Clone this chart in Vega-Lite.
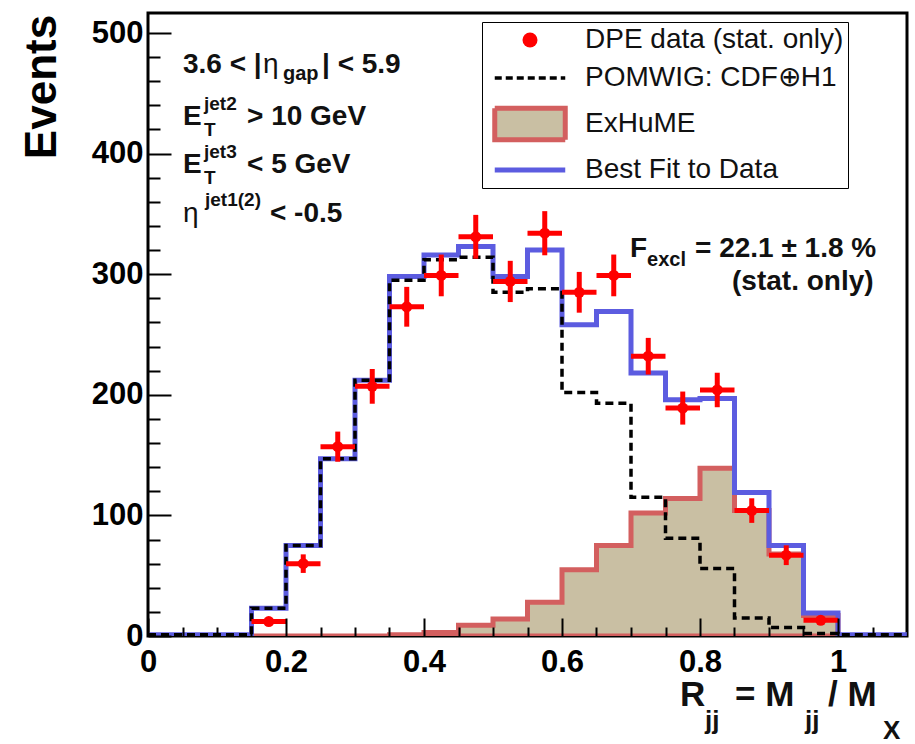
{
  "$schema": "https://vega.github.io/schema/vega-lite/v6.json",
  "width": 759,
  "height": 623,
  "autosize": "none",
  "padding": {"left": 148, "top": 13, "right": 8, "bottom": 108},
  "background": "white",
  "config": {"view": {"stroke": "black", "strokeWidth": 3}, "font": "Liberation Sans"},
  "resolve": {"axis": {"x": "independent", "y": "independent"}},
  "datasets": {
    "hist": [
      {"x": 0.00, "pomwig": 1, "exhume": 0, "fit": 1},
      {"x": 0.05, "pomwig": 1, "exhume": 0, "fit": 1},
      {"x": 0.10, "pomwig": 1, "exhume": 0, "fit": 1},
      {"x": 0.15, "pomwig": 23, "exhume": 0, "fit": 23},
      {"x": 0.20, "pomwig": 75, "exhume": 0, "fit": 75},
      {"x": 0.25, "pomwig": 147, "exhume": 0, "fit": 147},
      {"x": 0.30, "pomwig": 212, "exhume": 0, "fit": 212},
      {"x": 0.35, "pomwig": 295, "exhume": 1, "fit": 298},
      {"x": 0.40, "pomwig": 312, "exhume": 3, "fit": 316},
      {"x": 0.45, "pomwig": 314, "exhume": 9, "fit": 323},
      {"x": 0.50, "pomwig": 285, "exhume": 14, "fit": 298},
      {"x": 0.55, "pomwig": 288, "exhume": 28, "fit": 320},
      {"x": 0.60, "pomwig": 202, "exhume": 55, "fit": 258},
      {"x": 0.65, "pomwig": 193, "exhume": 75, "fit": 269},
      {"x": 0.70, "pomwig": 115, "exhume": 102, "fit": 218},
      {"x": 0.75, "pomwig": 81, "exhume": 114, "fit": 196},
      {"x": 0.80, "pomwig": 56, "exhume": 139, "fit": 197},
      {"x": 0.85, "pomwig": 15, "exhume": 104, "fit": 119},
      {"x": 0.90, "pomwig": 7, "exhume": 68, "fit": 75},
      {"x": 0.95, "pomwig": 2, "exhume": 17, "fit": 19},
      {"x": 1.00, "pomwig": 1, "exhume": 0, "fit": 1},
      {"x": 1.05, "pomwig": 1, "exhume": 0, "fit": 1},
      {"x": 1.10, "pomwig": 1, "exhume": 0, "fit": 1}
    ],
    "dpe": [
      {"xc": 0.175, "xlo": 0.15, "xhi": 0.20, "n": 12, "ylo": 8.5, "yhi": 15.5},
      {"xc": 0.225, "xlo": 0.20, "xhi": 0.25, "n": 60, "ylo": 52.3, "yhi": 67.7},
      {"xc": 0.275, "xlo": 0.25, "xhi": 0.30, "n": 157, "ylo": 144.5, "yhi": 169.5},
      {"xc": 0.325, "xlo": 0.30, "xhi": 0.35, "n": 207, "ylo": 192.6, "yhi": 221.4},
      {"xc": 0.375, "xlo": 0.35, "xhi": 0.40, "n": 273, "ylo": 256.5, "yhi": 289.5},
      {"xc": 0.425, "xlo": 0.40, "xhi": 0.45, "n": 299, "ylo": 281.7, "yhi": 316.3},
      {"xc": 0.475, "xlo": 0.45, "xhi": 0.50, "n": 331, "ylo": 312.8, "yhi": 349.2},
      {"xc": 0.525, "xlo": 0.50, "xhi": 0.55, "n": 294, "ylo": 276.9, "yhi": 311.1},
      {"xc": 0.575, "xlo": 0.55, "xhi": 0.60, "n": 334, "ylo": 315.7, "yhi": 352.3},
      {"xc": 0.625, "xlo": 0.60, "xhi": 0.65, "n": 285, "ylo": 268.1, "yhi": 301.9},
      {"xc": 0.675, "xlo": 0.65, "xhi": 0.70, "n": 299, "ylo": 281.7, "yhi": 316.3},
      {"xc": 0.725, "xlo": 0.70, "xhi": 0.75, "n": 232, "ylo": 216.8, "yhi": 247.2},
      {"xc": 0.775, "xlo": 0.75, "xhi": 0.80, "n": 189, "ylo": 175.3, "yhi": 202.7},
      {"xc": 0.825, "xlo": 0.80, "xhi": 0.85, "n": 204, "ylo": 189.7, "yhi": 218.3},
      {"xc": 0.875, "xlo": 0.85, "xhi": 0.90, "n": 104, "ylo": 93.8, "yhi": 114.2},
      {"xc": 0.925, "xlo": 0.90, "xhi": 0.95, "n": 67, "ylo": 58.8, "yhi": 75.2},
      {"xc": 0.975, "xlo": 0.95, "xhi": 1.00, "n": 13, "ylo": 9.4, "yhi": 16.6}
    ],
    "ann": [
      {"t": "3.6 < |", "x": 0.0507, "y": 466.8, "k": "main"},
      {"t": "η", "x": 0.1667, "y": 466.8, "k": "greek"},
      {"t": "gap", "x": 0.1957, "y": 461, "k": "sub"},
      {"t": "| < 5.9", "x": 0.2522, "y": 466.8, "k": "main"},
      {"t": "E", "x": 0.0507, "y": 423.7, "k": "main"},
      {"t": "jet2", "x": 0.0812, "y": 436.2, "k": "sup"},
      {"t": "T", "x": 0.0812, "y": 414.6, "k": "sup"},
      {"t": "> 10 GeV", "x": 0.1435, "y": 423.7, "k": "main"},
      {"t": "E", "x": 0.0507, "y": 383.9, "k": "main"},
      {"t": "jet3", "x": 0.0812, "y": 396.4, "k": "sup"},
      {"t": "T", "x": 0.0812, "y": 374.8, "k": "sup"},
      {"t": "< 5 GeV", "x": 0.1435, "y": 383.9, "k": "main"},
      {"t": "η", "x": 0.0507, "y": 343.3, "k": "greek"},
      {"t": "jet1(2)", "x": 0.0826, "y": 356.6, "k": "sup"},
      {"t": "< -0.5", "x": 0.1768, "y": 343.3, "k": "main"},
      {"t": "F", "x": 0.6986, "y": 314.3, "k": "main"},
      {"t": "excl", "x": 0.7232, "y": 306.8, "k": "sub"},
      {"t": "= 22.1 ± 1.8 %", "x": 0.7928, "y": 314.3, "k": "main"},
      {"t": "(stat. only)", "x": 0.8464, "y": 286.9, "k": "main"},
      {"t": "R", "x": 0.771, "y": -58, "k": "xt"},
      {"t": "jj", "x": 0.8072, "y": -77.5, "k": "xts"},
      {"t": "= M", "x": 0.8507, "y": -58, "k": "xt"},
      {"t": "jj", "x": 0.9522, "y": -77.5, "k": "xts"},
      {"t": "/ M", "x": 0.9855, "y": -58, "k": "xt"},
      {"t": "X", "x": 1.0652, "y": -85.5, "k": "xts"}
    ]
  },
  "layer": [
    {
      "data": {"name": "hist"},
      "mark": {"type": "area", "interpolate": "step-after", "fill": "#c9bfa3", "stroke": "#d35f5f", "strokeWidth": 5, "clip": true},
      "encoding": {
        "x": {
          "field": "x", "type": "quantitative",
          "scale": {"domain": [0, 1.1], "nice": false, "zero": false},
          "axis": {
            "orient": "bottom",
            "values": [0, 0.2, 0.4, 0.6, 0.8, 1],
            "labelExpr": "format(datum.value, '~g')",
            "tickSize": -18,
            "tickColor": "black", "tickWidth": 2,
            "domain": false, "grid": false, "zindex": 1,
            "labelFont": "Liberation Sans", "labelFontWeight": "bold", "labelFontSize": 31, "labelColor": "black",
            "labelPadding": 29, "labelFlush": false, "labelOverlap": false,
            "title": null
          }
        },
        "y": {
          "field": "exhume", "type": "quantitative",
          "scale": {"domain": [0, 516.6], "nice": false, "zero": false},
          "axis": {
            "orient": "left",
            "values": [0, 100, 200, 300, 400, 500],
            "tickSize": -23,
            "tickColor": "black", "tickWidth": 2,
            "domain": false, "grid": false, "zindex": 1,
            "labelFont": "Liberation Sans", "labelFontWeight": "bold", "labelFontSize": 31, "labelColor": "black",
            "labelPadding": 28, "labelOverlap": false,
            "title": "Events",
            "titleFont": "Liberation Sans", "titleFontWeight": "bold", "titleFontSize": 44, "titleColor": "black",
            "titleAngle": -90, "titleX": -93, "titleY": 73.5, "titleAlign": "center", "titleBaseline": "alphabetic"
          }
        }
      }
    },
    {
      "data": {"name": "hist"},
      "mark": {"type": "line", "interpolate": "step-after", "stroke": "#5c5ce0", "strokeWidth": 5, "clip": true},
      "encoding": {
        "x": {
          "field": "x", "type": "quantitative",
          "axis": {
            "orient": "bottom",
            "values": [0.05, 0.1, 0.15, 0.25, 0.3, 0.35, 0.45, 0.5, 0.55, 0.65, 0.7, 0.75, 0.85, 0.9, 0.95, 1.05],
            "labels": false, "tickSize": -9, "tickColor": "black", "tickWidth": 2,
            "domain": false, "grid": false, "zindex": 1, "title": null
          }
        },
        "y": {
          "field": "fit", "type": "quantitative",
          "axis": {
            "orient": "left",
            "values": [20, 40, 60, 80, 120, 140, 160, 180, 220, 240, 260, 280, 320, 340, 360, 380, 420, 440, 460, 480],
            "labels": false, "tickSize": -12, "tickColor": "black", "tickWidth": 2,
            "domain": false, "grid": false, "zindex": 1, "title": null
          }
        }
      }
    },
    {
      "data": {"name": "hist"},
      "mark": {"type": "line", "interpolate": "step-after", "stroke": "black", "strokeWidth": 3.5, "strokeDash": [8, 5], "clip": true},
      "encoding": {
        "x": {"field": "x", "type": "quantitative", "axis": null},
        "y": {"field": "pomwig", "type": "quantitative", "axis": null}
      }
    },
    {
      "data": {"name": "dpe"},
      "mark": {"type": "rule", "stroke": "#ff0000", "strokeWidth": 5},
      "encoding": {
        "x": {"field": "xc", "type": "quantitative", "axis": null},
        "y": {"field": "ylo", "type": "quantitative", "axis": null},
        "y2": {"field": "yhi"}
      }
    },
    {
      "data": {"name": "dpe"},
      "mark": {"type": "rule", "stroke": "#ff0000", "strokeWidth": 5},
      "encoding": {
        "x": {"field": "xlo", "type": "quantitative", "axis": null},
        "x2": {"field": "xhi"},
        "y": {"field": "n", "type": "quantitative", "axis": null}
      }
    },
    {
      "data": {"name": "dpe"},
      "mark": {"type": "circle", "size": 120, "opacity": 1},
      "encoding": {
        "x": {"field": "xc", "type": "quantitative", "axis": null},
        "y": {"field": "n", "type": "quantitative", "axis": null},
        "color": {
          "datum": "DPE data (stat. only)\u00a0\u00a0\u00a0\u00a0\u00a0",
          "type": "nominal",
          "scale": {
            "domain": ["DPE data (stat. only)\u00a0\u00a0\u00a0\u00a0\u00a0", "POMWIG: CDF⊕H1", "ExHuME", "Best Fit to Data"],
            "range": ["#ff0000", "white", "#c9bfa3", "white"]
          },
          "legend": {
            "orient": "none", "legendX": 334, "legendY": 9,
            "title": null,
            "fillColor": "white", "strokeColor": "black",
            "padding": 4,
            "labelFont": "Liberation Sans", "labelFontSize": 28, "labelColor": "#111", "labelLimit": 600,
            "symbolSize": 225, "symbolOffset": 30, "labelOffset": 41, "rowPadding": 6,
            "symbolType": {"expr": "datum.value === 'ExHuME' ? 'M-4.7,-2.1H4.7V2.1H-4.7Z' : (datum.value === 'POMWIG: CDF⊕H1' || datum.value === 'Best Fit to Data') ? 'M-4.7,0H4.7' : 'circle'"},
            "symbolStrokeColor": {"expr": "datum.value === 'ExHuME' ? '#d35f5f' : datum.value === 'Best Fit to Data' ? '#5c5ce0' : datum.value === 'POMWIG: CDF⊕H1' ? 'black' : 'transparent'"},
            "symbolDash": {"expr": "datum.value === 'POMWIG: CDF⊕H1' ? [7, 4] : [1, 0]"},
            "symbolStrokeWidth": {"expr": "datum.value === 'POMWIG: CDF⊕H1' ? 3.5 : 5"}
          }
        }
      }
    },
    {
      "data": {"name": "ann"},
      "transform": [{"filter": "datum.k === 'main'"}],
      "mark": {"type": "text", "align": "left", "baseline": "alphabetic", "font": "Liberation Sans", "fontWeight": "bold", "fontSize": 28, "color": "#111"},
      "encoding": {"x": {"field": "x", "type": "quantitative", "axis": null}, "y": {"field": "y", "type": "quantitative", "axis": null}, "text": {"field": "t"}}
    },
    {
      "data": {"name": "ann"},
      "transform": [{"filter": "datum.k === 'greek'"}],
      "mark": {"type": "text", "align": "left", "baseline": "alphabetic", "font": "Liberation Sans", "fontWeight": "normal", "fontSize": 28, "color": "#111"},
      "encoding": {"x": {"field": "x", "type": "quantitative", "axis": null}, "y": {"field": "y", "type": "quantitative", "axis": null}, "text": {"field": "t"}}
    },
    {
      "data": {"name": "ann"},
      "transform": [{"filter": "datum.k === 'sup'"}],
      "mark": {"type": "text", "align": "left", "baseline": "alphabetic", "font": "Liberation Sans", "fontWeight": "bold", "fontSize": 19, "color": "#111"},
      "encoding": {"x": {"field": "x", "type": "quantitative", "axis": null}, "y": {"field": "y", "type": "quantitative", "axis": null}, "text": {"field": "t"}}
    },
    {
      "data": {"name": "ann"},
      "transform": [{"filter": "datum.k === 'sub'"}],
      "mark": {"type": "text", "align": "left", "baseline": "alphabetic", "font": "Liberation Sans", "fontWeight": "bold", "fontSize": 20, "color": "#111"},
      "encoding": {"x": {"field": "x", "type": "quantitative", "axis": null}, "y": {"field": "y", "type": "quantitative", "axis": null}, "text": {"field": "t"}}
    },
    {
      "data": {"name": "ann"},
      "transform": [{"filter": "datum.k === 'xt'"}],
      "mark": {"type": "text", "align": "left", "baseline": "alphabetic", "font": "Liberation Sans", "fontWeight": "bold", "fontSize": 35, "color": "#111"},
      "encoding": {"x": {"field": "x", "type": "quantitative", "axis": null}, "y": {"field": "y", "type": "quantitative", "axis": null}, "text": {"field": "t"}}
    },
    {
      "data": {"name": "ann"},
      "transform": [{"filter": "datum.k === 'xts'"}],
      "mark": {"type": "text", "align": "left", "baseline": "alphabetic", "font": "Liberation Sans", "fontWeight": "bold", "fontSize": 26, "color": "#111"},
      "encoding": {"x": {"field": "x", "type": "quantitative", "axis": null}, "y": {"field": "y", "type": "quantitative", "axis": null}, "text": {"field": "t"}}
    }
  ]
}
